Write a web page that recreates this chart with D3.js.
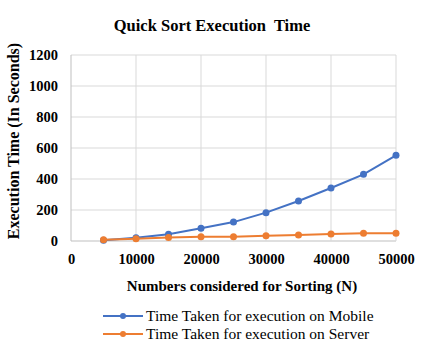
<!DOCTYPE html>
<html><head><meta charset="utf-8">
<script src="https://cdn.jsdelivr.net/npm/d3@7"></script>
<style>body{margin:0;background:#fff}svg{display:block}</style>
</head><body><svg id="c" width="424" height="349"></svg>
<script>
const xValues = [5000,10000,15000,20000,25000,30000,35000,40000,45000,50000];
const mobileValues = [5,21,43,82,122,183,258,342,430,553];
const serverValues = [8,15,22,28,27,34,39,45,50,50];
const xTicks = [0,10000,20000,30000,40000,50000];
const yTicks = [0,200,400,600,800,1000,1200];
const seriesNames = ["Time Taken for execution on Mobile","Time Taken for execution on Server"];
const colors = ["#4472C4","#ED7D31"];

const svg = d3.select("#c");
const font = "Liberation Serif, Times New Roman, serif";
const m = {l:71, r:396, t:55, b:241};
const x = d3.scaleLinear().domain([0,50000]).range([m.l,m.r]);
const y = d3.scaleLinear().domain([0,1200]).range([m.b,m.t]);

// gridlines
const g = svg.append("g");
g.selectAll(".h").data(yTicks).enter().append("line")
  .attr("x1",m.l).attr("x2",m.r).attr("y1",d=>y(d)).attr("y2",d=>y(d))
  .attr("stroke",d=>d===0?"#bfbfbf":"#d9d9d9").attr("stroke-width",1);
g.selectAll(".v").data(xTicks).enter().append("line")
  .attr("y1",m.t).attr("y2",m.b).attr("x1",d=>x(d)).attr("x2",d=>x(d))
  .attr("stroke",d=>d===0?"#bfbfbf":"#d9d9d9").attr("stroke-width",1);

// axes labels
const yAxis = d3.axisLeft(y).tickValues(yTicks).tickFormat(d3.format("d")).tickSize(0).tickPadding(13);
const ya = svg.append("g").attr("transform",`translate(${m.l},0)`).call(yAxis);
ya.select(".domain").remove();
ya.selectAll("text").style("font-family",font).style("font-weight","bold").style("font-size","14.5px").attr("fill","#000");

const xAxis = d3.axisBottom(x).tickValues(xTicks).tickFormat(d3.format("d")).tickSize(0).tickPadding(13);
const xa = svg.append("g").attr("transform",`translate(0,${m.b})`).call(xAxis);
xa.select(".domain").remove();
xa.selectAll("text").style("font-family",font).style("font-weight","bold").style("font-size","14.5px").attr("fill","#000");

// series
[mobileValues, serverValues].forEach((vals,i)=>{
  const pts = xValues.map((xv,j)=>[xv,vals[j]]);
  svg.append("path").datum(pts)
    .attr("d",d3.line().x(d=>x(d[0])).y(d=>y(d[1])))
    .attr("fill","none").attr("stroke",colors[i]).attr("stroke-width",2);
  svg.append("g").selectAll("circle").data(pts).enter().append("circle")
    .attr("cx",d=>x(d[0])).attr("cy",d=>y(d[1])).attr("r",3.5).attr("fill",colors[i]);
});

// title
svg.append("text").attr("x",212).attr("y",31).attr("text-anchor","middle")
  .style("font-family",font).style("font-weight","bold").style("font-size","16.5px")
  .style("white-space","pre").text("Quick Sort Execution  Time");

// axis titles
svg.append("text").attr("transform","translate(19,141) rotate(-90)").attr("text-anchor","middle")
  .style("font-family",font).style("font-weight","bold").style("font-size","16px")
  .text("Execution Time (In Seconds)");
svg.append("text").attr("x",242).attr("y",291).attr("text-anchor","middle")
  .style("font-family",font).style("font-weight","bold").style("font-size","15px")
  .text("Numbers considered for Sorting (N)");

// legend
const lg = svg.append("g");
seriesNames.forEach((n,i)=>{
  const yy = 316 + i*18;
  lg.append("line").attr("x1",103).attr("x2",143).attr("y1",yy).attr("y2",yy)
    .attr("stroke",colors[i]).attr("stroke-width",2);
  lg.append("circle").attr("cx",123).attr("cy",yy).attr("r",3).attr("fill",colors[i]);
  lg.append("text").attr("x",146).attr("y",yy+5).style("font-family",font)
    .style("font-size","15.5px").attr("fill","#000").text(n);
});
</script></body></html>
